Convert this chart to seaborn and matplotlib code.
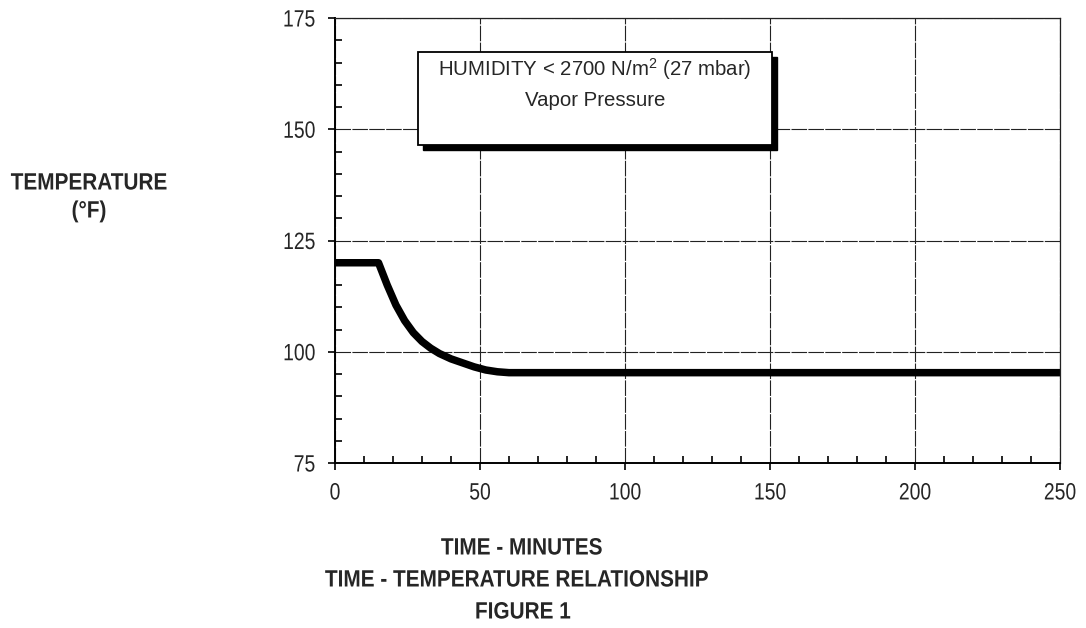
import numpy as np
import pandas as pd
import matplotlib
matplotlib.use("Agg")
import matplotlib.pyplot as plt
import matplotlib.transforms as mtransforms
from matplotlib.patches import Rectangle
from matplotlib.patheffects import AbstractPathEffect
from matplotlib.ticker import MultipleLocator
import seaborn as sns

# ====================================
# DATA
# ====================================
time_min = [0, 15, 18, 21, 24, 27, 30, 33, 36, 40, 44, 48, 52, 56, 60, 250]
temp_f = [120, 120, 115, 110.5, 107, 104.3, 102.3, 100.8, 99.6, 98.4, 97.5, 96.6, 95.9, 95.5, 95.3, 95.3]

x_ticks = [0, 50, 100, 150, 200, 250]
y_ticks = [75, 100, 125, 150, 175]

df = pd.DataFrame({"time": time_min, "temp": temp_f})


# No narrow Arial installed -> squeeze the glyph outlines horizontally
class Squeeze(AbstractPathEffect):
    def __init__(self, sx, anchor="center"):
        super().__init__()
        self.sx = sx
        self.anchor = anchor

    def draw_path(self, renderer, gc, tpath, affine, rgbFace=None):
        ext = tpath.get_extents()
        cx = {"center": (ext.x0 + ext.x1) / 2, "right": ext.x1, "left": ext.x0}[self.anchor]
        squeeze = mtransforms.Affine2D().translate(-cx, 0).scale(self.sx, 1).translate(cx, 0)
        renderer.draw_path(gc, tpath, squeeze + affine, rgbFace)


# ====================================
# STYLE
# ====================================
sns.set_style("white")
plt.rcParams["font.family"] = ["Liberation Sans", "DejaVu Sans"]
plt.rcParams["mathtext.fontset"] = "custom"
plt.rcParams["mathtext.rm"] = "Liberation Sans"

W, H = 1086, 628
fig = plt.figure(figsize=(W / 100, H / 100), dpi=100)
ax = fig.add_axes([335 / W, 1 - 463 / H, 725 / W, 445 / H])

sns.lineplot(data=df, x="time", y="temp", color="black", linewidth=5.4,
             solid_joinstyle="round", solid_capstyle="butt", ax=ax)

ax.set_xlim(0, 250)
ax.set_ylim(75, 175)
ax.set_xticks(x_ticks)
ax.set_yticks(y_ticks)
ax.xaxis.set_minor_locator(MultipleLocator(10))
ax.yaxis.set_minor_locator(MultipleLocator(5))

# seaborn "white" hides ticks, turn them back on
ax.tick_params(which="both", bottom=True, left=True, top=False, right=False)
ax.tick_params(which="major", direction="out", length=5, width=1.2, color="black",
               labelsize=17, pad=9)
ax.tick_params(which="minor", direction="in", length=5, width=1.2, color="black")
ax.set_xlabel("")
ax.set_ylabel("")

for lab in ax.get_xticklabels():
    lab.set_path_effects([Squeeze(0.82, "center")])
for lab in ax.get_yticklabels():
    lab.set_path_effects([Squeeze(0.82, "right")])

ax.grid(True, which="major", color="#222222", linewidth=0.8, linestyle=(0, (14, 1.2)))
for side in ["top", "right"]:
    ax.spines[side].set_linewidth(0.9)
    ax.spines[side].set_color("#222222")
for side in ["left", "bottom"]:
    ax.spines[side].set_linewidth(1.4)
    ax.spines[side].set_color("black")

# Annotation box with drop shadow
bx0, by0 = (418 - 335) / 725, (463 - 145) / 445
bw, bh = (772 - 418) / 725, (145 - 52) / 445
shadow_tr = mtransforms.offset_copy(ax.transAxes, fig=fig, x=5, y=-5, units="dots")
ax.add_patch(Rectangle((bx0, by0), bw, bh, transform=shadow_tr, facecolor="black",
                       edgecolor="black", zorder=5, clip_on=False))
ax.add_patch(Rectangle((bx0, by0), bw, bh, transform=ax.transAxes, facecolor="white",
                       edgecolor="black", linewidth=1.3, zorder=6, clip_on=False))
ax.text(bx0 + bw / 2, (463 - 69) / 445, r"HUMIDITY < 2700 N/m$^2$ (27 mbar)",
        transform=ax.transAxes, ha="center", va="center", fontsize=14.7, zorder=7)
ax.text(bx0 + bw / 2, (463 - 100) / 445, "Vapor Pressure",
        transform=ax.transAxes, ha="center", va="center", fontsize=14.7, zorder=7)

# Axis titles
bold_squeeze = [Squeeze(0.88, "center")]
labels = [
    (89, 183, "TEMPERATURE"),
    (89, 211, "(°F)"),
    (522, 548, "TIME - MINUTES"),
    (517, 580, "TIME - TEMPERATURE RELATIONSHIP"),
    (523, 612, "FIGURE 1"),
]
for px, py, txt in labels:
    fig.text(px / W, 1 - py / H, txt, ha="center", va="center", fontsize=17,
             fontweight="bold", path_effects=bold_squeeze)

plt.savefig("out.png", dpi=100)
